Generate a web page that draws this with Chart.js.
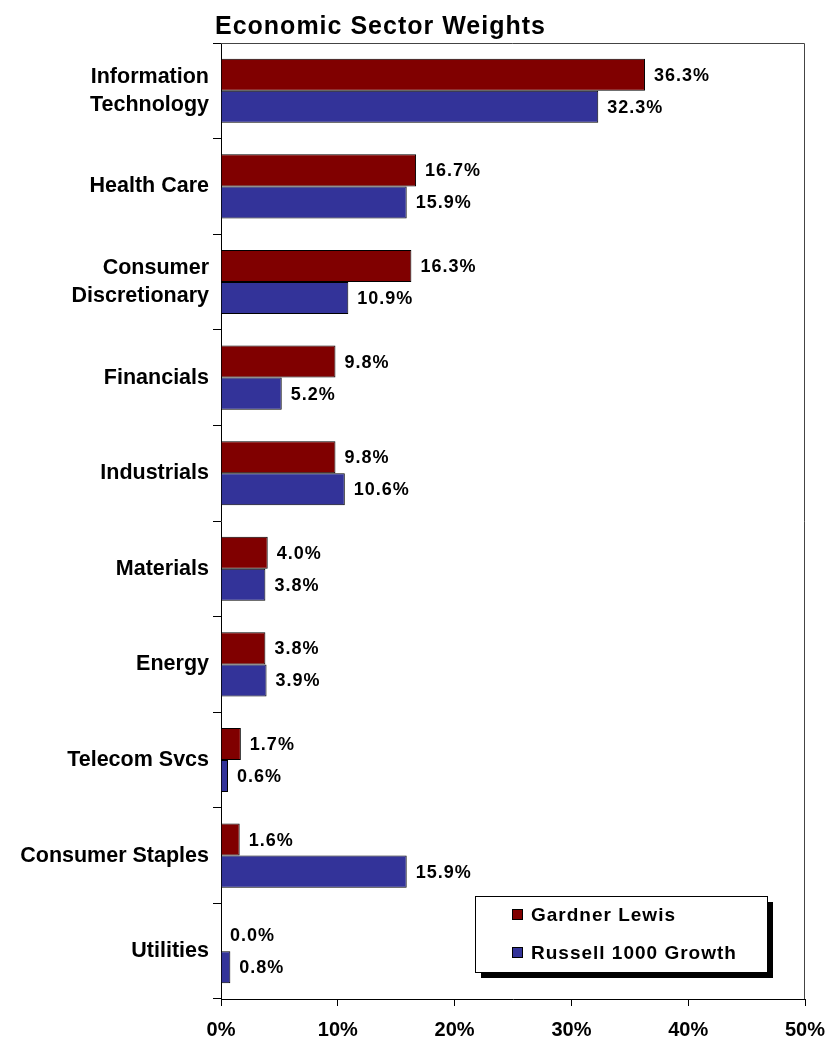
<!DOCTYPE html>
<html>
<head>
<meta charset="utf-8">
<script src="https://cdn.jsdelivr.net/npm/chart.js@4/dist/chart.umd.min.js"></script>
<style>
html,body{margin:0;padding:0;background:#fff;}
#wrap{width:833px;height:1040px;position:relative;}
</style>
</head>
<body>
<div id="wrap"><canvas id="c" width="833" height="1040"></canvas></div>
<script>
const chartTitle = 'Economic Sector Weights';
const categories = [
  ['Information', 'Technology'],
  'Health Care',
  ['Consumer', 'Discretionary'],
  'Financials',
  'Industrials',
  'Materials',
  'Energy',
  'Telecom Svcs',
  'Consumer Staples',
  'Utilities'
];
const seriesNames = ['Gardner Lewis', 'Russell 1000 Growth'];
const gardnerLewis = [36.3, 16.7, 16.3, 9.8, 9.8, 4.0, 3.8, 1.7, 1.6, 0.0];
const russell1000Growth = [32.3, 15.9, 10.9, 5.2, 10.6, 3.8, 3.9, 0.6, 15.9, 0.8];
const xTicks = [0, 10, 20, 30, 40, 50];
const seriesColors = ['#800000', '#333399'];

const FONT = '"Liberation Sans", Arial, sans-serif';

function setSpacing(ctx, v) { try { ctx.letterSpacing = v; } catch (e) {} }

const frame = {
  id: 'frame',
  beforeDraw(chart) {
    const {ctx, chartArea: a} = chart;
    ctx.save();
    ctx.fillStyle = '#000';
    ctx.font = 'bold 25px ' + FONT;
    setSpacing(ctx, '1px');
    ctx.textAlign = 'left';
    ctx.textBaseline = 'alphabetic';
    ctx.fillText(chartTitle, a.left - 6, 34);
    ctx.restore();
  },
  afterDraw(chart) {
    const {ctx, chartArea: a} = chart;
    ctx.save();
    ctx.strokeStyle = '#444';
    ctx.lineWidth = 1;
    ctx.beginPath();
    ctx.moveTo(a.left, a.top + 0.5);
    ctx.lineTo(a.right - 0.5, a.top + 0.5);
    ctx.lineTo(a.right - 0.5, a.bottom);
    ctx.stroke();
    // legend
    const bx = 475, by = 896, bw = 292, bh = 76;
    ctx.fillStyle = '#000';
    ctx.fillRect(bx + 6, by + 6, bw, bh);
    ctx.fillStyle = '#fff';
    ctx.fillRect(bx, by, bw, bh);
    ctx.strokeStyle = '#000';
    ctx.strokeRect(bx + 0.5, by + 0.5, bw, bh);
    ctx.font = 'bold 19px ' + FONT;
    setSpacing(ctx, '1px');
    ctx.textBaseline = 'middle';
    ctx.textAlign = 'left';
    chart.data.datasets.forEach((ds, i) => {
      const cy = by + 19 + i * 38;
      ctx.fillStyle = ds.backgroundColor;
      ctx.fillRect(512, cy - 6, 11, 11);
      ctx.strokeStyle = '#000';
      ctx.strokeRect(512.5, cy - 5.5, 10, 10);
      ctx.fillStyle = '#000';
      ctx.fillText(ds.label, 531, cy + 1);
    });
    ctx.restore();
  },
  afterDatasetsDraw(chart) {
    const {ctx} = chart;
    ctx.save();
    ctx.font = 'bold 18px ' + FONT;
    setSpacing(ctx, '1px');
    ctx.fillStyle = '#000';
    ctx.textAlign = 'left';
    ctx.textBaseline = 'middle';
    chart.data.datasets.forEach((ds, di) => {
      chart.getDatasetMeta(di).data.forEach((bar, i) => {
        ctx.fillText(ds.data[i].toFixed(1) + '%', bar.x + 9, bar.y + 1);
      });
    });
    ctx.restore();
  }
};

new Chart(document.getElementById('c'), {
  type: 'bar',
  data: {
    labels: categories,
    datasets: [
      {label: seriesNames[0], data: gardnerLewis, backgroundColor: seriesColors[0], borderColor: '#000', borderWidth: 1},
      {label: seriesNames[1], data: russell1000Growth, backgroundColor: seriesColors[1], borderColor: '#000', borderWidth: 1}
    ]
  },
  options: {
    indexAxis: 'y',
    responsive: false,
    animation: false,
    devicePixelRatio: 1,
    categoryPercentage: 0.67,
    barPercentage: 1.0,
    layout: {padding: {top: 43, right: 28, left: 0, bottom: 0}},
    plugins: {legend: {display: false}, title: {display: false}, tooltip: {enabled: false}},
    scales: {
      x: {
        min: 0, max: 50,
        afterBuildTicks(scale) { scale.ticks = xTicks.map(v => ({value: v})); },
        afterFit(scale) { scale.height = 41; scale.paddingRight = 0; scale.paddingLeft = 0; },
        ticks: {
          callback: v => v + '%',
          color: '#000',
          font: {family: FONT, size: 20, weight: 'bold'},
          padding: 12,
          maxRotation: 0
        },
        grid: {drawOnChartArea: false, drawTicks: true, tickLength: 7, color: '#000'},
        border: {color: '#000', width: 1}
      },
      y: {
        afterFit(scale) { scale.width = 221; },
        ticks: {
          color: '#000',
          font: {family: FONT, size: 21.5, weight: 'bold', lineHeight: 1.3},
          padding: 4,
          crossAlign: 'near'
        },
        grid: {offset: true, drawOnChartArea: false, drawTicks: true, tickLength: 8, color: '#000'},
        border: {color: '#000', width: 1}
      }
    }
  },
  plugins: [frame]
});
</script>
</body>
</html>
